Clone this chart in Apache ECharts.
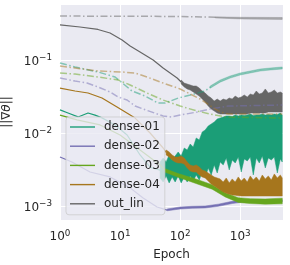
<!DOCTYPE html>
<html><head><meta charset="utf-8">
<script src="https://cdn.jsdelivr.net/npm/echarts@6/dist/echarts.min.js"></script>
<style>html,body{margin:0;padding:0;background:#fff}#c{width:290px;height:265px}</style>
</head><body><div id="c"></div>
<script>
// ---- data ----
const layerNames = ['dense-01', 'dense-02', 'dense-03', 'dense-04', 'out_lin'];
const layerColors = ['#1b9e77', '#7570b3', '#66a61e', '#a6761d', '#666666'];

// solid lines, smooth early part [epoch, ||grad||]
const dense01Line = [[1,0.0207],[1.36,0.0188],[2.0,0.0166],[2.93,0.0188],[3.83,0.0176],[5.0,0.0161],[8.25,0.0129],[13.1,0.0094],[21.5,0.0050],[31.6,0.0034],[46.4,0.0031]];
const dense02Line = [[1,0.00469],[1.58,0.00401],[3.16,0.00292],[6.81,0.00250],[14.7,0.00177],[24.2,0.00129],[41.3,0.00097],[60.8,0.00088]];
const dense03Line = [[1,0.0176],[1.92,0.0151],[4.64,0.0129],[10,0.0094],[21.5,0.00585],[46.4,0.00365],[56.2,0.00307]];
const dense04Line = [[1,0.0413],[1.78,0.0376],[2.93,0.0353],[5.0,0.0302],[8.9,0.0227],[17.8,0.0160],[31.6,0.0100],[52.1,0.00623],[58.5,0.0054]];
const outLinLine  = [[1,0.302],[2.15,0.283],[4.29,0.262],[6.81,0.234],[10.8,0.188],[14.7,0.156],[21.5,0.129],[35.5,0.100],[52,0.0777],[89,0.0567],[104,0.050]];

// noisy late part: shared epoch grid, lower / upper envelopes
const bandEpochs = [46.4,52.1,58.5,65.6,73.6,82.6,92.7,104,117,131,147,165,185,208,233,261,293,329,369,414,464,521,585,656,736,826,927,1040,1167,1310,1470,1649,1850,2076,2330,2614,2933,3291,3693,4143,4649,5000];
const dense01Hi = [0.00401,0.00455,0.00401,0.00500,0.00427,0.00484,0.00549,0.00484,0.00623,0.00585,0.00707,0.00643,0.00855,0.00802,0.01033,0.0110,0.01247,0.01328,0.01415,0.01555,0.01605,0.0166,0.0171,0.0171,0.0168,0.01764,0.0171,0.01764,0.0174,0.01764,0.01821,0.0174,0.01764,0.01764,0.01821,0.01764,0.0179,0.01764,0.01821,0.0179,0.01879,0.01764];
const dense01Lo = [0.00242,0.00213,0.00258,0.00207,0.00250,0.00213,0.00258,0.00207,0.00250,0.00213,0.00258,0.00220,0.00266,0.00227,0.00292,0.00242,0.00332,0.00266,0.00365,0.00283,0.00401,0.00365,0.00455,0.00312,0.00427,0.00388,0.00469,0.00292,0.00441,0.00414,0.00469,0.00266,0.00455,0.00388,0.00484,0.00332,0.00455,0.00427,0.00469,0.00283,0.00441,0.00401];
const dense04Hi = [null,null,0.00585,0.00549,0.00500,0.00469,0.00469,0.00484,0.00455,0.00401,0.00365,0.00353,0.00365,0.00342,0.00312,0.00302,0.00283,0.00266,0.00250,0.00242,0.00235,0.00213,0.00242,0.00207,0.00235,0.00213,0.00250,0.00220,0.00242,0.00213,0.00258,0.00227,0.00250,0.00220,0.00266,0.00235,0.00258,0.00227,0.00275,0.00242,0.00266,0.00242];
const dense04Lo = [null,null,0.00500,0.00469,0.00427,0.00401,0.00388,0.00388,0.00376,0.00332,0.00302,0.00292,0.00292,0.00266,0.00250,0.00242,0.00220,0.00200,0.00188,0.00177,0.00166,0.00156,0.00150,0.00145,0.00142,0.00140,0.00138,0.00137,0.00137,0.00137,0.00137,0.00137,0.00137,0.00137,0.00137,0.00137,0.00137,0.00137,0.00137,0.00137,0.00137,0.00137];
const outLinHi = [null,null,null,null,null,null,null,0.0532,0.0484,0.0469,0.0455,0.0440,0.0440,0.0414,0.0376,0.0353,0.0321,0.0302,0.0274,0.0292,0.0274,0.0292,0.0283,0.0302,0.0292,0.0321,0.0302,0.0311,0.0332,0.0311,0.0342,0.0332,0.0376,0.0342,0.0353,0.0401,0.0353,0.0365,0.0388,0.0353,0.0365,0.0353];
const outLinLo = [null,null,null,null,null,null,null,0.0469,0.0427,0.0401,0.0388,0.0365,0.0342,0.0321,0.0292,0.0266,0.0234,0.0213,0.0200,0.0188,0.0182,0.0182,0.0182,0.0182,0.0182,0.0182,0.0182,0.0182,0.0182,0.0182,0.0188,0.0188,0.0188,0.0188,0.0188,0.0188,0.0194,0.0194,0.0194,0.0194,0.0194,0.0194];
// [epoch, low, high]
const dense02Band = [[60.8,0.00086,0.00091],[100,0.00091,0.00097],[158,0.00093,0.00099],[261,0.00094,0.00100],[431,0.00099,0.00106],[736,0.00108,0.00116],[1210,0.00114,0.00122],[5000,0.00114,0.00122]];
const dense03Band = [[56.2,0.00290,0.00325],[92.6,0.00248,0.00278],[178,0.00205,0.00236],[341,0.00170,0.00196],[562,0.00133,0.00152],[926,0.00112,0.00130],[1468,0.00108,0.00126],[2610,0.00106,0.00125],[5000,0.00107,0.00128]];

// faded dash-dot companions
const dense01Dd = [[1,0.091],[1.78,0.0802],[4.29,0.0685],[8.25,0.0585],[15.8,0.0376],[26.1,0.0321],[42.9,0.0257],[56.2,0.0257],[92.6,0.0301],[147,0.0331],[261,0.0376],[316,0.0425]];
const dense01DdBand = [[316,0.0410,0.0440],[464,0.0497,0.0534],[681,0.0565,0.0605],[1000,0.0622,0.0665],[1468,0.0663,0.0708],[2154,0.0705,0.0754],[3162,0.0729,0.0778],[5000,0.0752,0.0803]];
const dense02Dd = [[1,0.0567],[1.78,0.0515],[2.82,0.0484],[4.29,0.0427],[6.81,0.0365],[9.3,0.0311],[13.1,0.0283],[17.8,0.0234],[24.2,0.0213],[52,0.0171],[72,0.0166],[100,0.0176],[192,0.0194],[316,0.0213],[631,0.0234],[5000,0.0242]];
const dense03Dd = [[1,0.0663],[1.78,0.0643],[4.29,0.0585],[9.3,0.0532],[14.7,0.0455],[28.1,0.0353],[52,0.0283],[100,0.0234],[192,0.0200],[316,0.0182],[562,0.0166],[5000,0.0160]];
const dense04Dd = [[1,0.0828],[1.78,0.0777],[4.29,0.0707],[10.8,0.0685],[17.8,0.0663],[28.1,0.0585],[52,0.0484],[100,0.0401],[215,0.0292],[341,0.0227],[464,0.0194],[631,0.0182],[5000,0.0182]];
const outLinDd = [[1,0.400],[100,0.395],[383,0.385]];
const outLinDdBand = [[383,0.377,0.390],[1000,0.365,0.385],[5000,0.360,0.382]];

// ---- chart ----
const FONT = 'DejaVu Sans';
const TXT = '#262626';

function gridBand(name, lo, hi, color, opacity) {
  const data = [];
  bandEpochs.forEach((e, i) => { if (lo[i] != null) data.push([e, lo[i], hi[i]]); });
  return tripletBand(name, data, color, opacity);
}
function tripletBand(name, data, color, opacity) {
  return {
    type: 'custom', name: name, data: data, clip: true, silent: true,
    encode: { x: 0, y: [1, 2] },
    renderItem: function (params, api) {
      if (params.dataIndex !== 0) return null;
      const top = data.map(d => api.coord([d[0], d[2]]));
      const bot = data.map(d => api.coord([d[0], d[1]])).reverse();
      return { type: 'polygon', shape: { points: top.concat(bot) },
        style: { fill: color, stroke: color, lineWidth: 0.5, opacity: opacity } };
    }
  };
}
function solid(name, data, color) {
  return { type: 'line', name: name, data: data, symbol: 'none', silent: true,
    lineStyle: { color: color, width: 1.2 }, itemStyle: { color: color } };
}
function dashdot(name, data, color) {
  return { type: 'line', name: name, data: data, symbol: 'none', silent: true,
    lineStyle: { color: color, width: 1.5, opacity: 0.5, type: [7, 2.5, 1.5, 2.5] }, itemStyle: { color: color } };
}

const C = layerColors;
const series = [
  solid('dense-01', dense01Line, C[0]), gridBand('b01', dense01Lo, dense01Hi, C[0], 1),
  dashdot('dd01', dense01Dd, C[0]), tripletBand('bd01', dense01DdBand, C[0], 0.5),
  solid('dense-02', dense02Line, C[1]), tripletBand('b02', dense02Band, C[1], 1),
  dashdot('dd02', dense02Dd, C[1]),
  solid('dense-03', dense03Line, C[2]), tripletBand('b03', dense03Band, C[2], 1),
  dashdot('dd03', dense03Dd, C[2]),
  solid('dense-04', dense04Line, C[3]), gridBand('b04', dense04Lo, dense04Hi, C[3], 1),
  dashdot('dd04', dense04Dd, C[3]),
  solid('out_lin', outLinLine, C[4]), gridBand('b05', outLinLo, outLinHi, C[4], 1),
  dashdot('dd05', outLinDd, C[4]), tripletBand('bd05', outLinDdBand, C[4], 0.5)
];

function powLabel(v) {
  const p = Math.round(Math.log10(v));
  return '{b|10}{s|' + (p < 0 ? '\u2212' : '') + Math.abs(p) + '}';
}
const labRich = {
  b: { fontSize: 12, fontFamily: FONT, color: TXT, lineHeight: 16 },
  s: { fontSize: 8.8, fontFamily: FONT, color: TXT, lineHeight: 9, verticalAlign: 'top' }
};

const chart = echarts.init(document.getElementById('c'), null, { renderer: 'canvas' });
chart.setOption({
  animation: false,
  backgroundColor: '#ffffff',
  grid: { left: 60, right: 7, top: 4, bottom: 45, show: true, backgroundColor: '#eaeaf2', borderWidth: 0,
          containLabel: false, outerBoundsMode: 'none' },
  xAxis: {
    type: 'log', logBase: 10, min: 1, max: 5150,
    name: 'Epoch', nameLocation: 'middle', nameGap: 29,
    nameTextStyle: { fontSize: 12, fontFamily: FONT, color: TXT },
    axisLine: { show: false }, axisTick: { show: false },
    axisLabel: { formatter: powLabel, rich: labRich, margin: 9, showMaxLabel: false, showMinLabel: true },
    splitLine: { show: true, lineStyle: { color: '#ffffff', width: 1 } },
    minorTick: { show: false }, minorSplitLine: { show: false }
  },
  yAxis: {
    type: 'log', logBase: 10, min: 0.000643, max: 0.585,
    name: '{n|||\u2207}{i|\u03b8}{n|||}', nameLocation: 'middle', nameGap: 40, nameRotate: 90,
    nameTextStyle: { rich: {
      n: { fontSize: 12, fontFamily: FONT, color: TXT },
      i: { fontSize: 12, fontFamily: FONT, color: TXT, fontStyle: 'italic' } } },
    axisLine: { show: false }, axisTick: { show: false },
    axisLabel: { formatter: powLabel, rich: labRich, margin: 8, padding: [3, 0, 0, 0], showMinLabel: false, showMaxLabel: false },
    splitLine: { show: true, lineStyle: { color: '#ffffff', width: 1 } },
    minorTick: { show: false }, minorSplitLine: { show: false }
  },
  legend: {
    data: layerNames.map(n => ({ name: n, icon: 'rect' })), orient: 'vertical', left: 66, top: 117,
    itemWidth: 25, itemHeight: 1.4, itemGap: 5.2,
    padding: [3, 5, 4, 4],
    backgroundColor: 'rgba(234,234,242,0.8)', borderColor: 'rgba(204,204,204,0.8)', borderWidth: 1, borderRadius: 3,
    textStyle: { fontSize: 12, fontFamily: FONT, color: TXT, lineHeight: 14, padding: [0, 0, 0, 4] },
    selectedMode: false
  },
  series: series
});
</script>
</body></html>
